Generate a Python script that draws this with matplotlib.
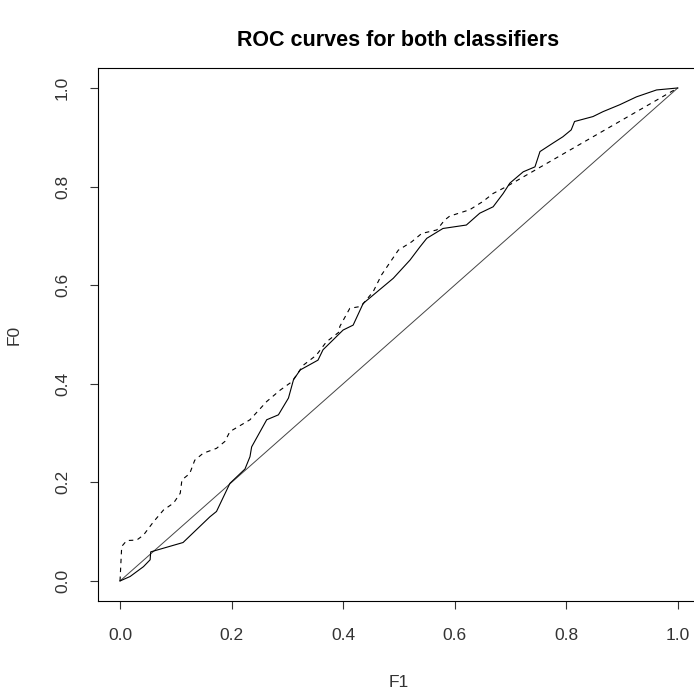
import matplotlib
matplotlib.use("Agg")
import matplotlib.pyplot as plt

plt.rcParams['font.family'] = ['Liberation Sans', 'DejaVu Sans']

# classifier 1 (solid)
f1_a = [0, 0.018, 0.030, 0.042, 0.054, 0.055, 0.113, 0.161, 0.173, 0.197, 0.224,
        0.233, 0.236, 0.263, 0.284, 0.302, 0.311, 0.323, 0.355, 0.364, 0.382,
        0.400, 0.418, 0.436, 0.472, 0.490, 0.520, 0.538, 0.550, 0.579, 0.621,
        0.645, 0.669, 0.687, 0.699, 0.723, 0.744, 0.753, 0.776, 0.794, 0.809,
        0.815, 0.848, 0.866, 0.896, 0.926, 0.962, 1.0]
f0_a = [0, 0.009, 0.019, 0.029, 0.043, 0.059, 0.078, 0.130, 0.141, 0.198, 0.227,
        0.252, 0.272, 0.327, 0.337, 0.371, 0.408, 0.428, 0.448, 0.469, 0.489,
        0.509, 0.519, 0.563, 0.597, 0.614, 0.651, 0.678, 0.695, 0.715, 0.722,
        0.746, 0.759, 0.786, 0.807, 0.830, 0.840, 0.871, 0.888, 0.901, 0.915,
        0.932, 0.942, 0.952, 0.966, 0.982, 0.996, 1.0]

# classifier 2 (dashed)
f1_b = [0, 0.003, 0.012, 0.030, 0.042, 0.060, 0.078, 0.096, 0.108, 0.111, 0.125,
        0.134, 0.149, 0.173, 0.188, 0.197, 0.233, 0.263, 0.287, 0.308, 0.329,
        0.352, 0.370, 0.394, 0.394, 0.412, 0.432, 0.454, 0.469, 0.499, 0.523,
        0.541, 0.568, 0.582, 0.591, 0.627, 0.651, 0.669, 0.693, 1.0]
f0_b = [0, 0.070, 0.082, 0.083, 0.093, 0.120, 0.144, 0.158, 0.178, 0.205, 0.218,
        0.245, 0.259, 0.269, 0.283, 0.303, 0.327, 0.364, 0.387, 0.404, 0.438,
        0.458, 0.485, 0.506, 0.516, 0.553, 0.557, 0.587, 0.621, 0.671, 0.688,
        0.705, 0.712, 0.732, 0.740, 0.753, 0.770, 0.786, 0.800, 1.0]

ticks = [0.0, 0.2, 0.4, 0.6, 0.8, 1.0]

fig = plt.figure(figsize=(6.94, 6.93), dpi=100)
ax = fig.add_axes([0.1408, 0.1332, 0.8679, 0.7683])

ax.plot([0, 1], [0, 1], color="#444444", lw=0.7)
ax.plot(f1_a, f0_a, color="black", lw=0.8)
ax.plot(f1_b, f0_b, color="black", lw=0.8, linestyle=(0, (4, 4)))

ax.set_xlim(-0.04, 1.04)
ax.set_ylim(-0.04, 1.04)
ax.set_xticks(ticks)
ax.set_yticks(ticks)
ax.set_xticklabels(["%.1f" % t for t in ticks])
ax.set_yticklabels(["%.1f" % t for t in ticks], rotation=90, va="center")
ax.tick_params(direction="out", length=6, width=0.8, labelsize=12.5, pad=14,
               colors="#333333")
for s in ax.spines.values():
    s.set_linewidth(0.8)

ax.set_xlabel("F1", fontsize=12.5, labelpad=23, color="#333333")
ax.set_ylabel("F0", fontsize=12.5, labelpad=24, color="#333333")
fig.text(0.574, 0.942, "ROC curves for both classifiers", ha="center", va="center",
         fontsize=15.5, fontweight="bold")

fig.savefig("out.png", dpi=100)
